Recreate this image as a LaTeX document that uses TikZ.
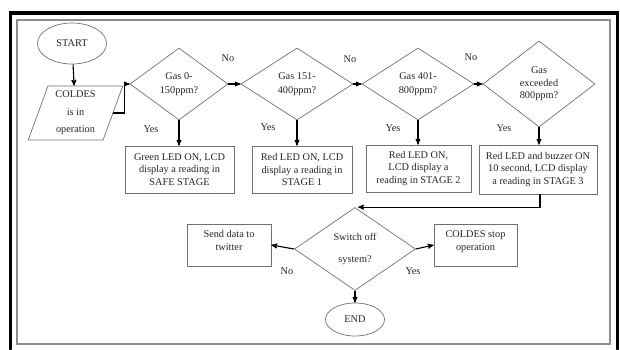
\documentclass[tikz,border=0pt]{standalone}
\usepackage{fontspec}
\setmainfont{Liberation Serif}
\usetikzlibrary{shapes.geometric,arrows,positioning}
\definecolor{shapegray}{HTML}{707070}
\tikzset{every node/.style={font=\fontsize{10.3}{12.5}\selectfont,text=black!85},
         decision/.style={diamond,draw=shapegray,line width=0.7pt,inner sep=0pt,align=center},
         process/.style={rectangle,draw=shapegray,line width=0.7pt,inner sep=2pt,align=center},
         terminal/.style={ellipse,draw=shapegray,line width=0.7pt,inner sep=0pt},
         io/.style={trapezium,trapezium left angle=72,trapezium right angle=108,trapezium stretches=true,draw=shapegray,line width=0.7pt,inner sep=0pt,align=center},
         edge label/.style={rectangle,draw=none,fill=none,inner sep=0pt},
         flow/.style={->,line width=1.1pt,black}
}
\begin{document}
\begin{tikzpicture}[x=1pt,y=-1pt,>=stealth']
\useasboundingbox (0,0) rectangle (620,349);
% frames
\draw[line width=3.5pt,line cap=round] (10.5,349) -- (10.5,13) -- (617.5,13) -- (617.5,349);
\draw[shapegray!80,line width=1.2pt] (17,20) rectangle (610,344);

\node [terminal,minimum width=69pt,minimum height=41pt] (start) at (72,43.5) {START};
\node [io,minimum width=95pt,minimum height=54pt] (col) at (75.5,113) {COLDES\\[5pt]is in\\[5pt]operation};

\node [decision,minimum width=98pt,minimum height=72pt] (d1) at (179,84) {Gas 0-\\[1.5pt]150ppm?};
\node [decision,minimum width=112pt,minimum height=72pt] (d2) at (297,84) {Gas 151-\\[1.5pt]400ppm?};
\node [decision,minimum width=112pt,minimum height=72pt] (d3) at (418,84) {Gas 401-\\[1.5pt]800ppm?};
\node [decision,minimum width=112pt,minimum height=86pt] (d4) at (539,84) {Gas\\exceeded\\800ppm?};

\node [process,minimum width=109pt,minimum height=47pt] (b1) at (179.5,169.5) {Green LED ON, LCD\\display a reading in\\SAFE STAGE};
\node [process,minimum width=100pt,minimum height=47pt] (b2) at (302,169.5) {Red LED ON, LCD\\display a reading in\\STAGE 1};
\node [process,minimum width=105pt,minimum height=47pt] (b3) at (418.5,168.5) {Red LED ON,\\LCD display a\\reading in STAGE 2};
\node [process,minimum width=118pt,minimum height=49pt] (b4) at (538,169.5) {Red LED and buzzer ON\\10 second, LCD display\\a reading in STAGE 3};

\node [decision,minimum width=121pt,minimum height=83pt] (d5) at (355,249) {Switch off\\[9pt]system?};
\node [process,minimum width=84pt,minimum height=42pt,text depth=9pt] (tw) at (229,245) {Send data to\\twitter};
\node [process,minimum width=83pt,minimum height=42pt,text depth=9pt] (stop) at (475.5,245) {COLDES stop\\operation};
\node [terminal,minimum width=59pt,minimum height=33pt] (end) at (355,319.5) {END};

\node [edge label] (no1) at (228,58) {No};
\node [edge label] (no2) at (350,59) {No};
\node [edge label] (no3) at (471,57) {No};
\node [edge label] (yes1) at (151,129) {Yes};
\node [edge label] (yes2) at (268,127) {Yes};
\node [edge label] (yes3) at (393,128) {Yes};
\node [edge label] (yes4) at (504,128) {Yes};
\node [edge label] (no5) at (287,271) {No};
\node [edge label] (yes5) at (413,271) {Yes};

\draw [flow] (start) -- (col);
\draw [flow] (col.east) -- ++(11,0) |- (d1.west);
\draw [flow] (d1.east) -- (d2.west);
\draw [flow] (d2.east) -- (d3.west);
\draw [flow] (d3.east) -- (d4.west);
\draw [flow] (d1.south) -- (d1.south |- b1.north);
\draw [flow] (d2.south) -- (d2.south |- b2.north);
\draw [flow] (d3.south) -- (d3.south |- b3.north);
\draw [flow] (d4.south) -- (d4.south |- b4.north);
\draw [flow] ([xshift=2pt]b4.south) |- ([xshift=3pt]d5.north);
\draw [flow] (d5.west) -- (tw.east);
\draw [flow] (d5.east) -- (stop.west);
\draw [flow] (d5.south) -- (end);
\end{tikzpicture}
\end{document}
